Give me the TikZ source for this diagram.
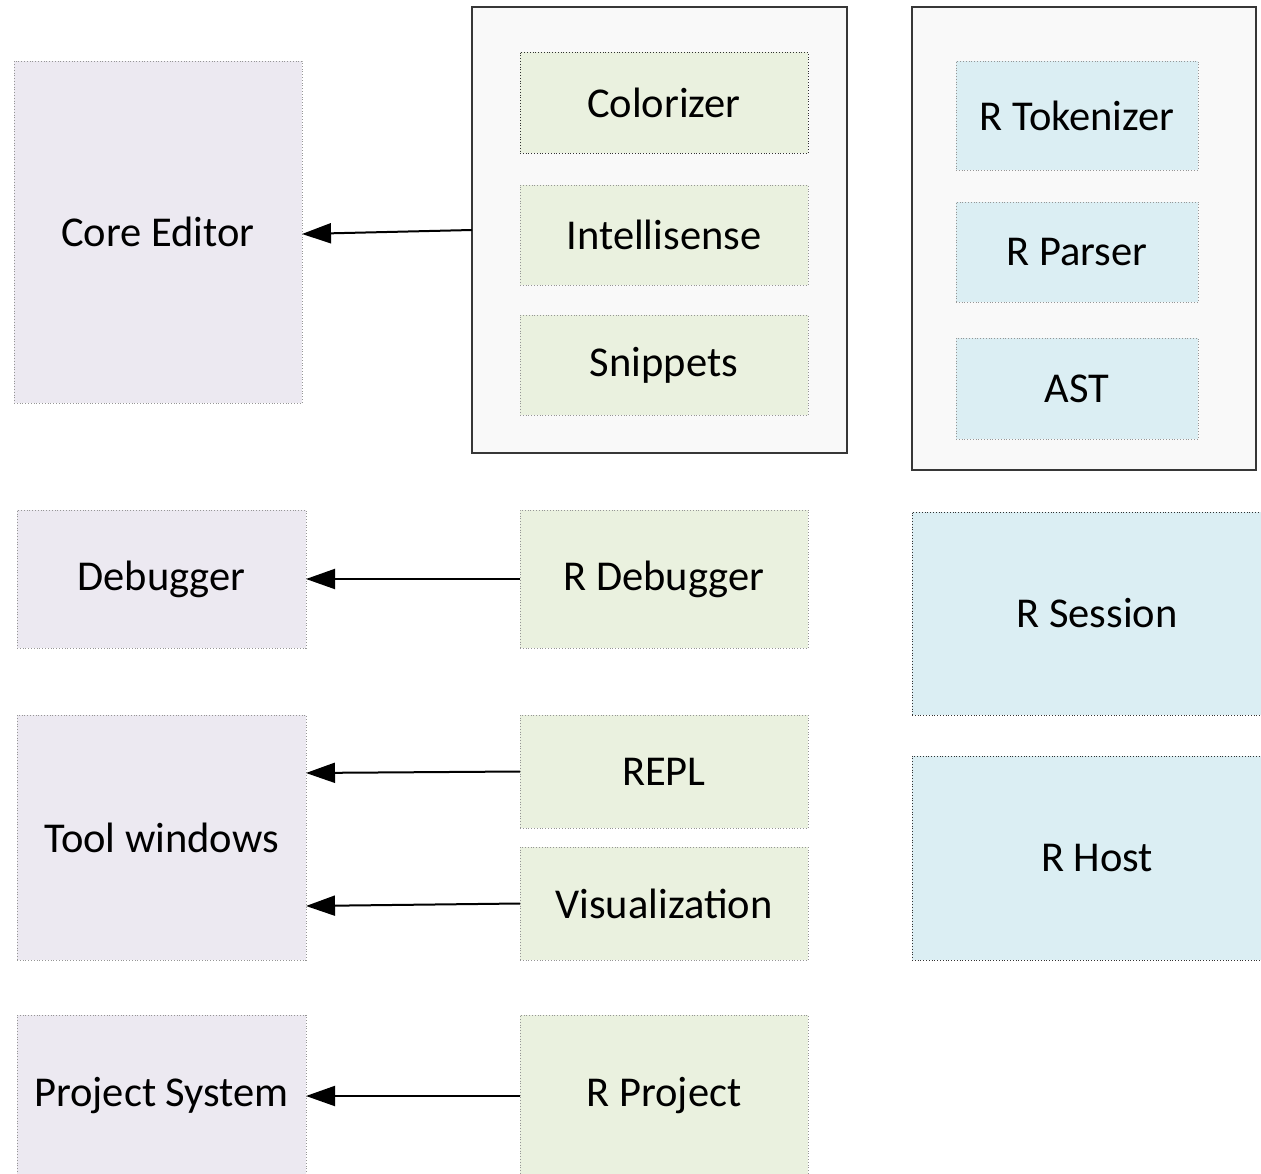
\documentclass[tikz,border=0pt]{standalone}
\usepackage{fontspec}
\setmainfont{Carlito}
\usetikzlibrary{arrows.meta}
\definecolor{purplebox}{RGB}{236,233,241}
\definecolor{greenbox}{RGB}{234,241,223}
\definecolor{bluebox}{RGB}{219,238,243}
\definecolor{contfill}{RGB}{249,249,249}
\definecolor{contline}{RGB}{55,55,55}
\definecolor{dotline}{RGB}{150,150,150}
\tikzset{
  box/.style={draw=dotline, dotted, line width=0.8pt, inner sep=0pt, outer sep=0pt,
    font=\fontsize{42.5}{50}\selectfont, text=black},
  pbox/.style={box, fill=purplebox},
  gbox/.style={box, fill=greenbox},
  bbox/.style={box, fill=bluebox},
  container/.style={draw=contline, line width=1.4pt, fill=contfill, inner sep=0pt, outer sep=0pt},
  link/.style={line width=2pt, -{Triangle[length=29pt,width=20pt]}}
}
\begin{document}
\begin{tikzpicture}[x=1pt,y=-1pt]
\useasboundingbox[fill=white] (0,0) rectangle (1261,1174);
% containers
\node[container, minimum width=375pt, minimum height=446pt] (c1) at (659.5,230) {};
\node[container, minimum width=344pt, minimum height=463pt] (c2) at (1084,238.5) {};
% left column
\node[pbox, minimum width=288pt, minimum height=342pt] (core) at (158,232) {Core Editor};
\node[pbox, minimum width=289pt, minimum height=138pt] (dbg) at (161.5,579) {Debugger};
\node[pbox, minimum width=289pt, minimum height=245pt] (tw) at (161.5,837.5) {Tool windows};
\node[pbox, minimum width=289pt, minimum height=162pt] (ps) at (161.5,1096) {Project System};
% middle column
\node[gbox, draw=black!80, minimum width=288pt, minimum height=101pt] (col) at (664,102.5) {Colorizer};
\node[gbox, minimum width=288pt, minimum height=100pt] (intel) at (664,235) {Intellisense};
\node[gbox, minimum width=288pt, minimum height=100pt] (snip) at (664,365) {Snippets};
\node[gbox, minimum width=288pt, minimum height=138pt] (rdbg) at (664,579) {R Debugger};
\node[gbox, minimum width=288pt, minimum height=113pt] (repl) at (664,771.5) {REPL};
\node[gbox, minimum width=288pt, minimum height=113pt] (vis) at (664,903.5) {Visualization};
\node[gbox, minimum width=288pt, minimum height=162pt] (rp) at (664,1096) {R Project};
% right column
\node[bbox, minimum width=242pt, minimum height=109pt] (tok) at (1077,116) {R Tokenizer};
\node[bbox, minimum width=242pt, minimum height=100pt] (par) at (1077,252) {R Parser};
\node[bbox, minimum width=242pt, minimum height=101pt] (ast) at (1077,388.5) {AST};
\node[bbox, draw=black!80, minimum width=370pt, minimum height=203pt] (rs) at (1097,613.5) {R Session};
\node[bbox, draw=black!80, minimum width=370pt, minimum height=204pt] (rh) at (1097,858) {R Host};
% connectors
\draw[link] (c1.west) -- ([yshift=-2pt]core.east);
\draw[link] (rdbg.west) -- (dbg.east);
\draw[link] (repl.west) -- ([yshift=-58pt]tw.north east);
\draw[link] (vis.west) -- ([yshift=-191pt]tw.north east);
\draw[link] (rp.west) -- (ps.east);
\end{tikzpicture}
\end{document}
